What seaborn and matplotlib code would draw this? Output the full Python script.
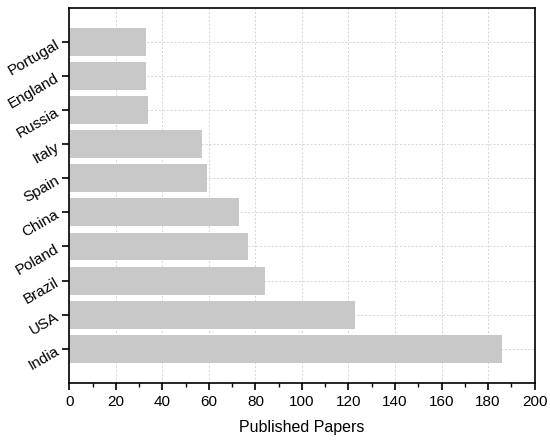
import matplotlib
matplotlib.use("Agg")
import matplotlib.pyplot as plt
import seaborn as sns
import pandas as pd
from matplotlib.ticker import MultipleLocator

countries = ["Portugal", "England", "Russia", "Italy", "Spain", "China", "Poland", "Brazil", "USA", "India"]
papers = [33, 33, 34, 57, 59, 73, 77, 84, 123, 186]

df = pd.DataFrame({"Country": countries, "Papers": papers})

sns.set_theme(style="white")
plt.rcParams['font.family'] = ['Liberation Sans', 'DejaVu Sans']

fig, ax = plt.subplots(figsize=(5.5, 4.41), dpi=100)
fig.subplots_adjust(left=0.126, right=0.972, top=0.982, bottom=0.132)

sns.barplot(data=df, x="Papers", y="Country", order=countries, color="#c8c8c8",
            saturation=1, width=0.82, ax=ax, zorder=2, edgecolor="none")

ax.set_xlim(0, 200)
ax.set_ylim(len(countries), -1)
ax.xaxis.set_major_locator(MultipleLocator(20))
ax.xaxis.set_minor_locator(MultipleLocator(10))

ax.grid(True, which="major", linestyle=(0, (2, 2)), color="#d4d4d4", linewidth=0.7, zorder=0)
ax.set_axisbelow(True)

for s in ax.spines.values():
    s.set_color("black")
    s.set_linewidth(1.2)
    s.set_visible(True)

ax.tick_params(axis="both", which="major", direction="out", length=5, width=1.2,
               color="black", labelsize=11, labelcolor="black", bottom=True, left=True)
ax.tick_params(axis="x", which="minor", direction="out", length=3, width=1.0, color="black", bottom=True)
for lab in ax.get_yticklabels():
    lab.set_rotation(30)
    lab.set_ha("right")
    lab.set_rotation_mode("anchor")

ax.set_xlabel("Published Papers", fontsize=11.5, color="black", labelpad=8)
ax.set_ylabel("")

fig.savefig("out.png", dpi=100)
